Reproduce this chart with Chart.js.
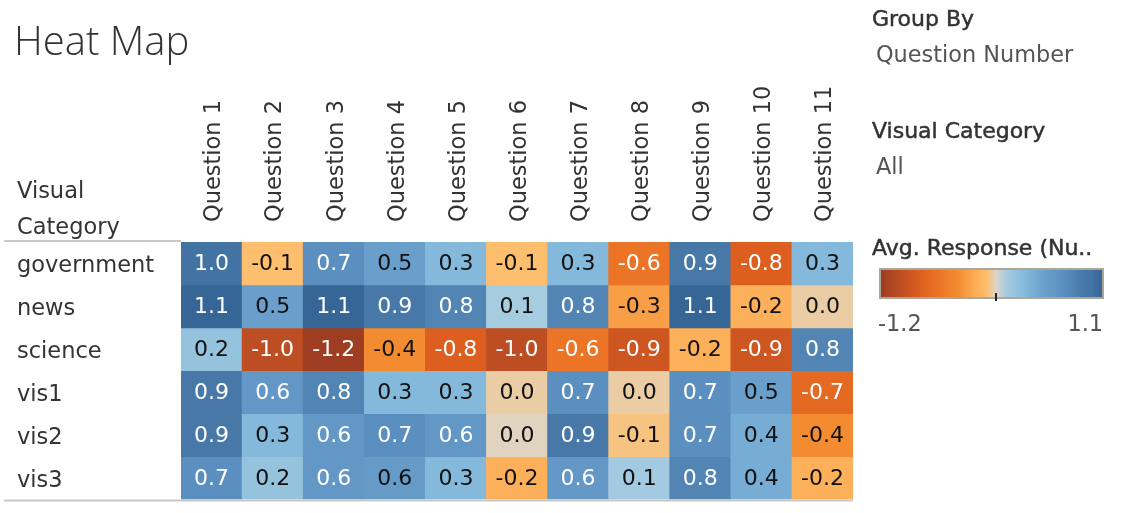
<!DOCTYPE html>
<html>
<head>
<meta charset="utf-8">
<script src="https://cdn.jsdelivr.net/npm/chart.js@4.4.0/dist/chart.umd.min.js"></script>
<style>
  body { margin: 0; background: #fff; font-family: "DejaVu Sans", sans-serif; color: #333; }
  #page { position: relative; width: 1135px; height: 513px; overflow: hidden; }
  #heat { position: absolute; left: 0; top: 0; }
  .txt { position: absolute; white-space: nowrap; line-height: 1; }
  #title { left: 14px; top: 20px; font-family: "Open Sans", sans-serif; font-size: 40px; font-weight: 300; color: #333; }
  .rowhead { left: 17px; font-size: 22.5px; }
  .side-h { left: 872px; font-size: 22px; color: #333; -webkit-text-stroke: 0.5px #333; }
  .side-v { left: 876px; font-size: 22.4px; color: #555; }
  #ramp { position: absolute; left: 879px; top: 268px; width: 221px; height: 27px; border: 2px solid #aaa698; }
  #ramp-tick { position: absolute; top: 293px; width: 2px; height: 8px; background: #222; }
  .ramp-lbl { top: 312px; font-size: 22.4px; color: #555; }
</style>
</head>
<body>
<div id="page">
  <canvas id="heat" width="1135" height="513"></canvas>
  <div class="txt" id="title">Heat Map</div>
  <div class="txt rowhead" style="top:179px">Visual</div>
  <div class="txt rowhead" style="top:215px">Category</div>
  <div class="txt side-h" style="top:8px">Group By</div>
  <div class="txt side-v" style="top:43px">Question Number</div>
  <div class="txt side-h" style="top:120px">Visual Category</div>
  <div class="txt side-v" style="top:155px">All</div>
  <div class="txt side-h" style="top:237px">Avg. Response (Nu..</div>
  <div id="ramp"></div>
  <div id="ramp-tick"></div>
  <div class="txt ramp-lbl" id="ramp-min" style="left:878px"></div>
  <div class="txt ramp-lbl" id="ramp-max" style="right:32px"></div>
</div>
<script>
const questions = ["Question 1", "Question 2", "Question 3", "Question 4", "Question 5", "Question 6",
                   "Question 7", "Question 8", "Question 9", "Question 10", "Question 11"];
const categories = ["government", "news", "science", "vis1", "vis2", "vis3"];

// average response per question, one array per visual category
const government = [1.0, -0.1, 0.7, 0.5, 0.3, -0.1, 0.3, -0.6, 0.9, -0.8, 0.3];
const news       = [1.1, 0.5, 1.1, 0.9, 0.8, 0.1, 0.8, -0.3, 1.1, -0.2, -0.04];
const science    = [0.2, -1.0, -1.2, -0.4, -0.8, -1.0, -0.6, -0.9, -0.2, -0.9, 0.8];
const vis1       = [0.9, 0.6, 0.8, 0.3, 0.3, -0.04, 0.7, -0.04, 0.7, 0.5, -0.7];
const vis2       = [0.9, 0.3, 0.6, 0.7, 0.6, -0.01, 0.9, -0.08, 0.7, 0.4, -0.4];
const vis3       = [0.7, 0.2, 0.6, 0.55, 0.3, -0.2, 0.6, 0.12, 0.8, 0.4, -0.2];

const rangeMin = -1.2;
const rangeMax = 1.1;

const rows = [government, news, science, vis1, vis2, vis3];

// orange-blue diverging ramp
const stops = [
    [-1.2, "#9e3d22"], [-1.0, "#bd4d22"], [-0.8, "#dc5f20"], [-0.6, "#eb7427"],
    [-0.4, "#f38c31"], [-0.2, "#fdb05a"], [-0.1, "#fdbe6e"], [0.0, "#ddd5c9"],
    [0.1, "#a6cce0"], [0.3, "#84b9dc"], [0.5, "#6a9fcb"], [0.7, "#5b8fc0"],
    [0.9, "#4878a8"], [1.0, "#4373a2"], [1.1, "#356695"]
];

function hex_to_rgb(h) {
    return [parseInt(h.substr(1, 2), 16), parseInt(h.substr(3, 2), 16), parseInt(h.substr(5, 2), 16)];
}

function color_for(v) {
    if (v <= stops[0][0]) return stops[0][1];
    for (let i = 1; i < stops.length; i++) {
        if (v <= stops[i][0]) {
            const a = hex_to_rgb(stops[i - 1][1]);
            const b = hex_to_rgb(stops[i][1]);
            const t = (v - stops[i - 1][0]) / (stops[i][0] - stops[i - 1][0]);
            const c = a.map((x, k) => Math.round(x + (b[k] - x) * t));
            return `rgb(${c[0]},${c[1]},${c[2]})`;
        }
    }
    return stops[stops.length - 1][1];
}

function label_for(v) {
    return (Math.round(v * 10) / 10).toFixed(1);
}

function text_color_for(v) {
    return (v > 0.55 || v < -0.5) ? "#ffffff" : "#111111";
}

// legend ramp
const ramp = document.getElementById("ramp");
ramp.style.background = "linear-gradient(to right, " +
    stops.map(s => `${s[1]} ${((s[0] - rangeMin) / (rangeMax - rangeMin) * 100).toFixed(1)}%`).join(", ") + ")";
document.getElementById("ramp-tick").style.left =
    (881 + (0 - rangeMin) / (rangeMax - rangeMin) * 221 - 1) + "px";
document.getElementById("ramp-min").textContent = rangeMin.toFixed(1);
document.getElementById("ramp-max").textContent = rangeMax.toFixed(1);

const cell_text = {
    id: "cell_text",
    afterDatasetsDraw(chart) {
        const ctx = chart.ctx;
        ctx.save();
        ctx.font = "22px 'DejaVu Sans'";
        ctx.textAlign = "center";
        ctx.textBaseline = "middle";
        chart.data.datasets.forEach((ds, r) => {
            chart.getDatasetMeta(r).data.forEach((el, c) => {
                const v = rows[r][c];
                const p = el.getCenterPoint();
                ctx.fillStyle = text_color_for(v);
                ctx.fillText(label_for(v), p.x, p.y + 1);
            });
        });
        ctx.restore();
    }
};

const rules = {
    id: "rules",
    afterDraw(chart) {
        const ctx = chart.ctx;
        const area = chart.chartArea;
        ctx.save();
        ctx.strokeStyle = "#c8c8c8";
        ctx.lineWidth = 2;
        ctx.beginPath();
        ctx.moveTo(4, area.top - 1);
        ctx.lineTo(area.left, area.top - 1);
        ctx.moveTo(4, area.bottom + 1);
        ctx.lineTo(area.right, area.bottom + 1);
        ctx.stroke();
        ctx.restore();
    }
};

Chart.defaults.font.family = "'DejaVu Sans'";
Chart.defaults.color = "#333";

new Chart(document.getElementById("heat"), {
    type: "bar",
    data: {
        labels: questions,
        datasets: rows.map((vals, r) => ({
            label: categories[r],
            data: vals.map(() => [r, r + 1]),
            backgroundColor: vals.map(color_for),
            borderWidth: 0,
            barPercentage: 1,
            categoryPercentage: 1,
            grouped: false
        }))
    },
    options: {
        responsive: false,
        animation: false,
        layout: { padding: { left: 17, right: 282, top: 0, bottom: 11 } },
        plugins: { legend: { display: false }, tooltip: { enabled: false } },
        scales: {
            x: {
                position: "top",
                grid: { display: false, drawTicks: false },
                border: { display: false },
                ticks: {
                    minRotation: 90, maxRotation: 90, autoSkip: false,
                    padding: 20, labelOffset: 30,
                    font: { size: 22.5 }, color: "#333"
                },
                afterFit: s => { s.height = 242; }
            },
            y: {
                min: 0,
                max: 6,
                reverse: true,
                grid: { display: false, drawTicks: false },
                border: { display: false },
                afterBuildTicks: s => { s.ticks = categories.map((_, i) => ({ value: i + 0.5 })); },
                ticks: {
                    autoSkip: false,
                    crossAlign: "far",
                    padding: 0,
                    labelOffset: 3,
                    font: { size: 22.5 },
                    color: "#333",
                    callback: v => categories[Math.floor(v)]
                },
                afterFit: s => { s.width = 164; }
            }
        }
    },
    plugins: [cell_text, rules]
});
</script>
</body>
</html>
